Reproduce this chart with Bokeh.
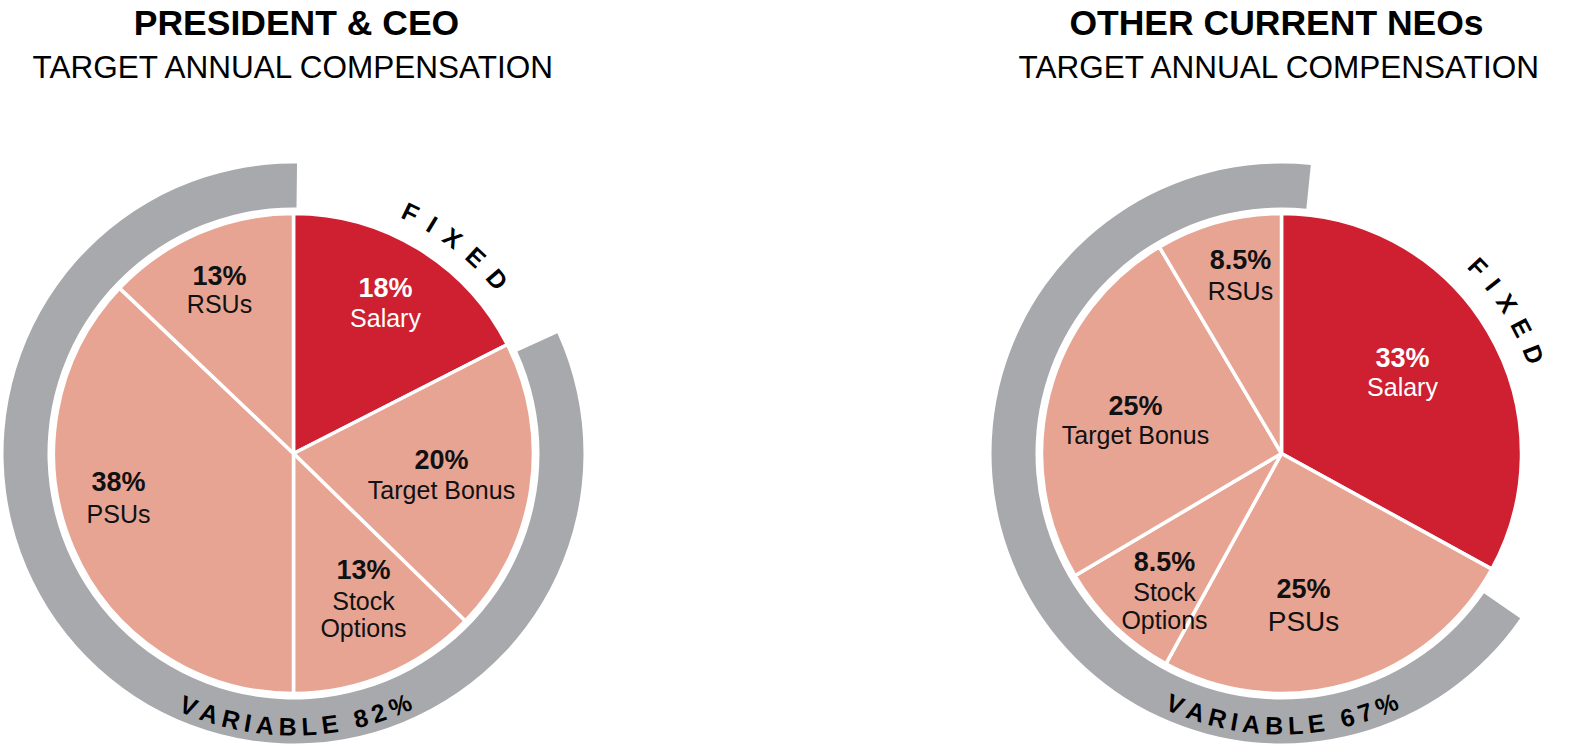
import math
from bokeh.plotting import figure
from bokeh.models import Range1d, ColumnDataSource
from bokeh.embed import file_html
from bokeh.resources import INLINE
from bokeh.core.properties import value

# ---------------- data ----------------
titles = ["PRESIDENT & CEO", "OTHER CURRENT NEOs"]
subtitles = ["TARGET ANNUAL COMPENSATION", "TARGET ANNUAL COMPENSATION"]

# slices listed clockwise from 12 o'clock
ceo_slices = ["Salary", "Target Bonus", "Stock Options", "PSUs", "RSUs"]
ceo_values = [17.5, 19.8, 12.7, 37.1, 12.9]
ceo_pct_labels = ["18%", "20%", "13%", "38%", "13%"]
ceo_name_labels = [["Salary"], ["Target Bonus"], ["Stock", "Options"], ["PSUs"], ["RSUs"]]
ceo_fixed = [True, False, False, False, False]
ceo_variable_pct = 82

neo_slices = ["Salary", "PSUs", "Stock Options", "Target Bonus", "RSUs"]
neo_values = [33, 25, 8.5, 25, 8.5]
neo_pct_labels = ["33%", "25%", "8.5%", "25%", "8.5%"]
neo_name_labels = [["Salary"], ["PSUs"], ["Stock", "Options"], ["Target Bonus"], ["RSUs"]]
neo_fixed = [True, False, False, False, False]
neo_variable_pct = 67

# ---------------- layout / style ----------------
W, H = 1570, 745
RED = "#CE2031"
PINK = "#E8A493"
GRAY = "#A7A9AC"
FONT = value("Liberation Sans")
K = 0.37  # rendered baseline sits K*font_size below the anchor


def Y(py):
    return 747 - py


def YB(baseline, fs):
    return Y(baseline - K * fs)


p = figure(width=W, height=H, output_backend="svg", toolbar_location=None,
           title=None, x_axis_type=None, y_axis_type=None,
           x_range=Range1d(0, W), y_range=Range1d(747 - H, 747),
           min_border=0, min_border_left=0, min_border_right=0,
           min_border_top=0, min_border_bottom=0)
p.grid.visible = False
p.outline_line_color = None
p.background_fill_color = "white"
p.border_fill_color = "white"

BOLD_W = {"V": .667, "A": .722, "R": .722, "I": .278, "B": .722, "L": .611,
          "E": .667, " ": .278, "0": .556, "1": .556, "2": .556, "3": .556,
          "4": .556, "5": .556, "6": .556, "7": .556, "8": .556, "9": .556,
          "%": .889, "F": .611, "X": .667, "D": .722}


def arc_text(s, cx, cy, r_center, theta_start, spacing, fs, tops_out):
    xs, ys, angs, chars = [], [], [], []
    pos = 0.0
    w0 = BOLD_W[s[0]] * fs
    for ch in s:
        w = BOLD_W[ch] * fs
        c = pos + w / 2 - w0 / 2
        pos += w + spacing
        if ch == " ":
            continue
        dth = math.degrees(c / r_center)
        if tops_out:
            th = theta_start + dth
            rot = -th
        else:
            th = theta_start - dth
            rot = 180 - th
        t = math.radians(th)
        xs.append(cx + r_center * math.sin(t))
        ys.append(Y(cy) + r_center * math.cos(t))
        angs.append(math.radians(rot))
        chars.append(ch)
    p.text(x=xs, y=ys, text=chars, angle=angs, text_font=FONT,
           text_font_style="bold", text_font_size=f"{fs}px",
           text_align="center", text_baseline="alphabetic", text_color="black")


def draw_pie(cx, cy, values, fixed, variable_pct, arc_gap, pct_labels, name_labels,
             pct_pos, name_pos, name_sizes, fixed_start, fixed_r, fixed_sp,
             var_start, var_r):
    # variable gray arc
    fixed_end = sum(v for v, f in zip(values, fixed) if f) * 3.6
    a0 = fixed_end + arc_gap
    a1 = a0 + variable_pct * 3.6
    p.annular_wedge(x=[cx], y=[Y(cy)], inner_radius=246, outer_radius=290,
                    start_angle=[math.radians(90 - a0)], end_angle=[math.radians(90 - a1)],
                    direction="clock", fill_color=GRAY, line_color=None)
    # pie slices
    starts, ends, colors = [], [], []
    acc = 0.0
    for v, f in zip(values, fixed):
        t0 = acc * 3.6
        acc += v
        t1 = acc * 3.6
        starts.append(math.radians(90 - t0))
        ends.append(math.radians(90 - t1))
        colors.append(RED if f else PINK)
    src = ColumnDataSource(dict(x=[cx] * len(values), y=[Y(cy)] * len(values),
                                s=starts, e=ends, c=colors))
    p.wedge(x="x", y="y", radius=240, start_angle="s", end_angle="e",
            direction="clock", fill_color="c", line_color="white", line_width=3.5,
            source=src)
    # labels
    for i in range(len(values)):
        col = "white" if fixed[i] else "#111111"
        px, pb = pct_pos[i]
        p.text(x=[px], y=[YB(pb, 27)], text=[pct_labels[i]], text_font=FONT,
               text_font_style="bold", text_font_size="27px", text_align="center",
               text_baseline="alphabetic", text_color=col)
        for line, nb in zip(name_labels[i], name_pos[i]):
            fs = name_sizes[i]
            p.text(x=[px], y=[YB(nb, fs)], text=[line], text_font=FONT,
                   text_font_size=f"{fs}px", text_align="center",
                   text_baseline="alphabetic", text_color=col)
    arc_text("FIXED", cx, cy, fixed_r, fixed_start, fixed_sp, 25, True)
    arc_text(f"VARIABLE {variable_pct}%", cx, cy, var_r, var_start, 4.7, 25, False)


draw_pie(293, 453, ceo_values, ceo_fixed, ceo_variable_pct, 2.5,
         ceo_pct_labels, ceo_name_labels,
         pct_pos=[(385, 297), (441, 469), (363, 579), (118, 491), (219, 285)],
         name_pos=[[327], [499], [610, 637], [523], [313]],
         name_sizes=[25, 25, 25, 25, 25],
         fixed_start=25.9, fixed_r=268, fixed_sp=13.3, var_start=202.6, var_r=273)

draw_pie(1281, 453, neo_values, neo_fixed, neo_variable_pct, 5.8,
         neo_pct_labels, neo_name_labels,
         pct_pos=[(1402, 367), (1303, 598), (1164, 571), (1135, 415), (1240, 269)],
         name_pos=[[396], [631], [601, 629], [444], [300]],
         name_sizes=[25, 28, 25, 25, 25],
         fixed_start=46.5, fixed_r=271, fixed_sp=11.8, var_start=203.0, var_r=272)

# titles
for tx, sx, t, s in [(296, 294, titles[0], subtitles[0]), (1276, 1280, titles[1], subtitles[1])]:
    p.text(x=[tx], y=[YB(36, 35.5)], text=[t], text_font=FONT, text_font_style="bold",
           text_font_size="35.5px", text_align="center", text_baseline="alphabetic",
           text_color="black")
    p.text(x=[sx], y=[YB(78, 31.5)], text=[s], text_font=FONT, text_font_size="31.5px",
           text_align="center", text_baseline="alphabetic", text_color="black")

open("out.html", "w").write(file_html(p, INLINE))
